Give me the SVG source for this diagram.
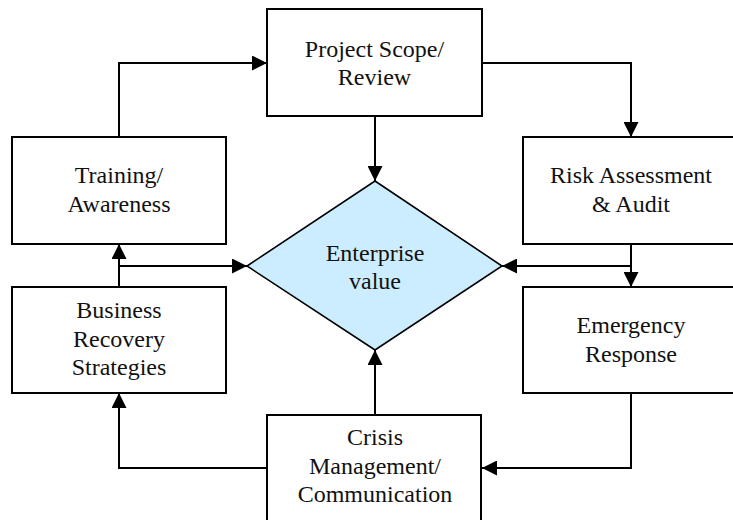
<svg xmlns="http://www.w3.org/2000/svg" width="733" height="520" viewBox="0 0 733 520">
<defs>
<marker id="ah" markerUnits="userSpaceOnUse" markerWidth="15" markerHeight="15" refX="15" refY="7.5" orient="auto">
<path d="M0,0 L15,7.5 L0,15 z" fill="#000"/>
</marker>
<style>
.box{fill:#fff;stroke:#000;stroke-width:2}
.dia{fill:#ccecff;stroke:#000;stroke-width:1.6}
.lbl{font-family:"Liberation Serif","Times New Roman",serif;font-size:24px;fill:#111;text-anchor:middle}
.con{fill:none;stroke:#000;stroke-width:2;marker-end:url(#ah)}
</style>
</defs>
<rect width="733" height="520" fill="#fff"/>
<g id="connectors">
<path class="con" d="M119,137 V63 H267"/>
<path class="con" d="M482,63 H631 V137"/>
<path class="con" d="M375,116 V181"/>
<path class="con" d="M631,244 V287"/>
<path class="con" d="M631,266 H502"/>
<path class="con" d="M119,287 V244"/>
<path class="con" d="M119,266 H247"/>
<path class="con" d="M631,393 V468 H482"/>
<path class="con" d="M267,468 H119 V393"/>
<path class="con" d="M375,415 V350"/>
</g>
<g id="project-scope">
<rect class="box" x="267" y="9" width="215" height="107"/>
<text class="lbl" x="374.5" y="57">Project Scope/</text>
<text class="lbl" x="374.5" y="85">Review</text>
</g>
<g id="training">
<rect class="box" x="12" y="137" width="214" height="107"/>
<text class="lbl" x="119" y="183">Training/</text>
<text class="lbl" x="119" y="212">Awareness</text>
</g>
<g id="risk">
<rect class="box" x="523" y="137" width="214" height="107"/>
<text class="lbl" x="631" y="183">Risk Assessment</text>
<text class="lbl" x="631" y="212">&amp; Audit</text>
</g>
<g id="enterprise">
<polygon class="dia" points="375,181 502,266 375,350 247,266"/>
<text class="lbl" x="375" y="261">Enterprise</text>
<text class="lbl" x="375" y="289">value</text>
</g>
<g id="business">
<rect class="box" x="12" y="287" width="214" height="106"/>
<text class="lbl" x="119" y="318">Business</text>
<text class="lbl" x="119" y="347">Recovery</text>
<text class="lbl" x="119" y="375">Strategies</text>
</g>
<g id="emergency">
<rect class="box" x="523" y="287" width="214" height="106"/>
<text class="lbl" x="631" y="333">Emergency</text>
<text class="lbl" x="631" y="362">Response</text>
</g>
<g id="crisis">
<rect class="box" x="267" y="415" width="214" height="115"/>
<text class="lbl" x="375" y="445">Crisis</text>
<text class="lbl" x="375" y="474">Management/</text>
<text class="lbl" x="375" y="502">Communication</text>
</g>
</svg>
